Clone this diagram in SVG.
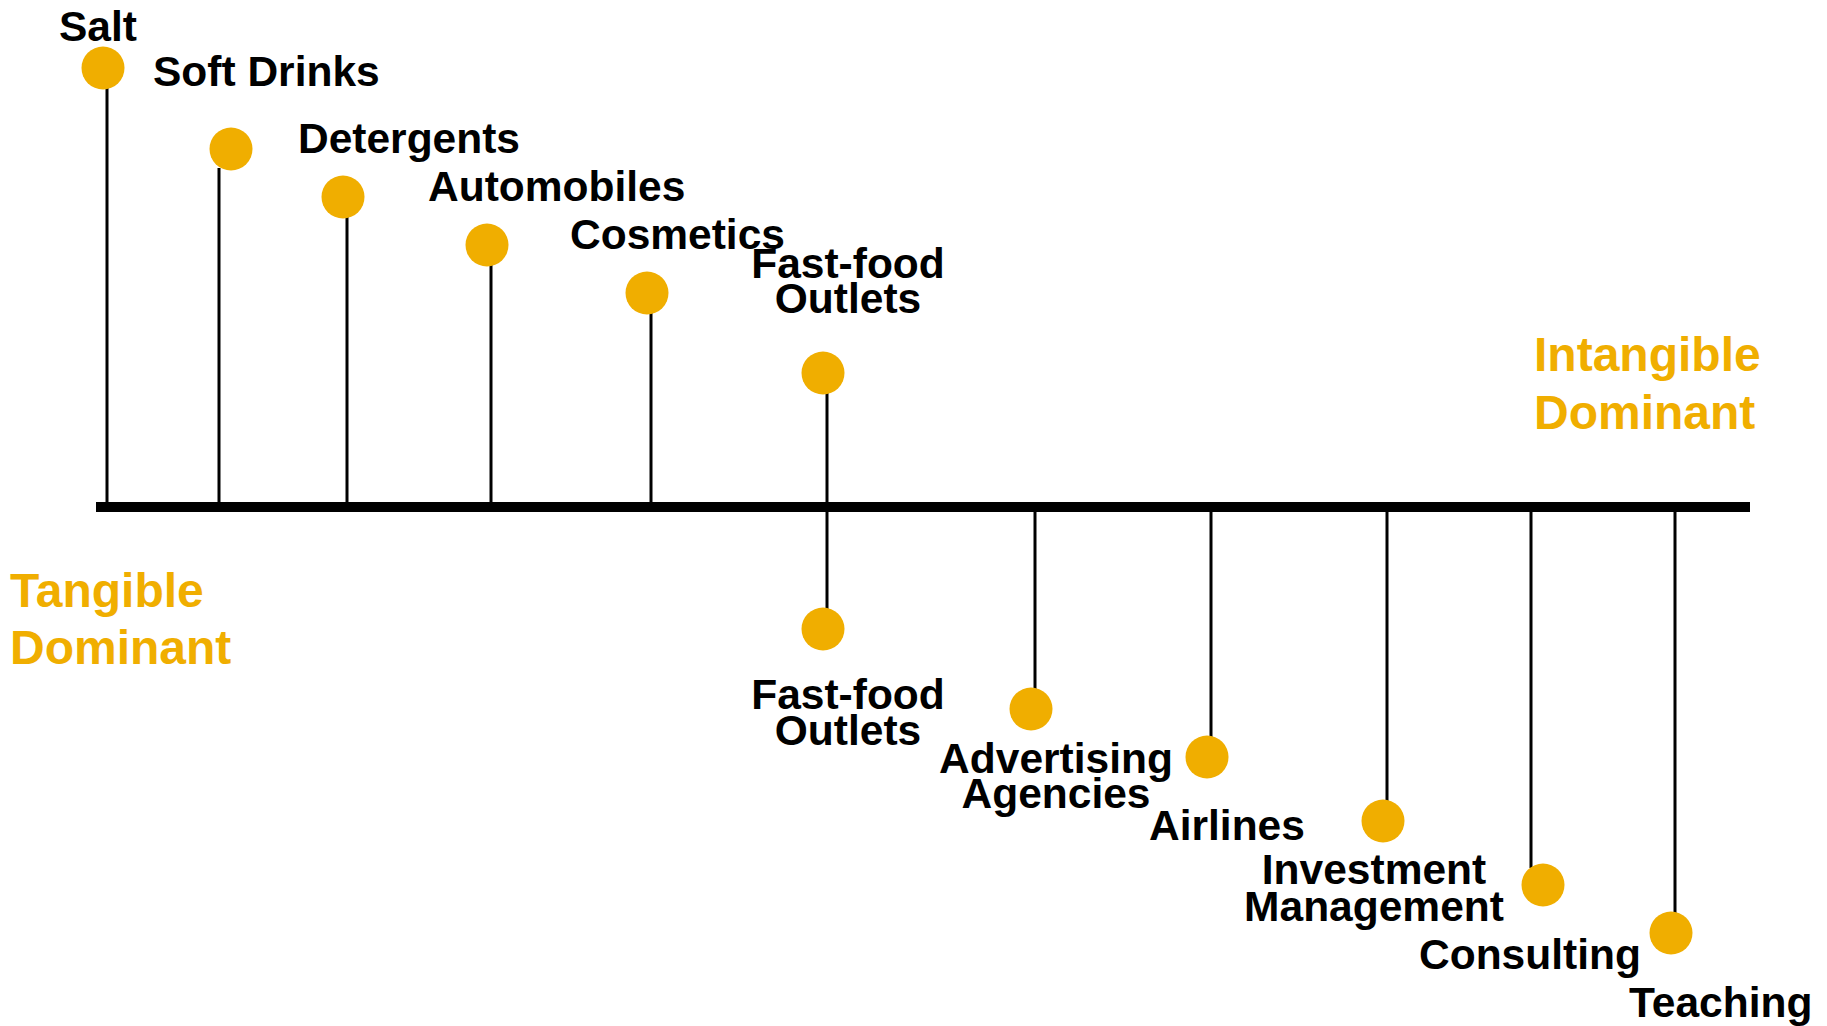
<svg xmlns="http://www.w3.org/2000/svg" width="1827" height="1026" viewBox="0 0 1827 1026">
<style>
.lbl{font-family:"Liberation Sans",Arial,sans-serif;font-weight:bold;font-size:42.5px;fill:#000}
.mid{text-anchor:middle}
.big{font-family:"Liberation Sans",Arial,sans-serif;font-weight:bold;font-size:48px;fill:#F0AE00}
.dot{fill:#F0AE00}
.stem{stroke:#000;stroke-width:3;fill:none}
</style>
<rect width="1827" height="1026" fill="#fff"/>
<g id="connectors">
<line class="stem" x1="107" y1="88" x2="107" y2="507"/>
<line class="stem" x1="219" y1="168" x2="219" y2="507"/>
<line class="stem" x1="347" y1="216" x2="347" y2="507"/>
<line class="stem" x1="491" y1="264" x2="491" y2="507"/>
<line class="stem" x1="651" y1="312" x2="651" y2="507"/>
<line class="stem" x1="827" y1="392" x2="827" y2="610"/>
<line class="stem" x1="1035" y1="507" x2="1035" y2="690"/>
<line class="stem" x1="1211" y1="507" x2="1211" y2="738"/>
<line class="stem" x1="1387" y1="507" x2="1387" y2="802"/>
<line class="stem" x1="1531" y1="507" x2="1531" y2="868"/>
<line class="stem" x1="1675" y1="507" x2="1675" y2="914"/>
</g>
<g id="axis"><rect x="96" y="502" width="1654" height="10" fill="#000"/></g>
<g id="salt"><circle class="dot" cx="103" cy="68" r="21.5"/><text class="lbl" x="59" y="41">Salt</text></g>
<g id="soft-drinks"><circle class="dot" cx="231" cy="149" r="21.5"/><text class="lbl" x="153" y="86">Soft Drinks</text></g>
<g id="detergents"><circle class="dot" cx="343" cy="197" r="21.5"/><text class="lbl" x="298" y="153">Detergents</text></g>
<g id="automobiles"><circle class="dot" cx="487" cy="245" r="21.5"/><text class="lbl" x="428" y="201">Automobiles</text></g>
<g id="cosmetics"><circle class="dot" cx="647" cy="293" r="21.5"/><text class="lbl" x="570" y="249">Cosmetics</text></g>
<g id="fastfood-top"><circle class="dot" cx="823" cy="373" r="21.5"/><text class="lbl mid" x="848" y="278">Fast-food</text><text class="lbl mid" x="848" y="313">Outlets</text></g>
<g id="fastfood-bottom"><circle class="dot" cx="823" cy="629" r="21.5"/><text class="lbl mid" x="848" y="709">Fast-food</text><text class="lbl mid" x="848" y="745">Outlets</text></g>
<g id="advertising"><circle class="dot" cx="1031" cy="709" r="21.5"/><text class="lbl mid" x="1056" y="773">Advertising</text><text class="lbl mid" x="1056" y="808">Agencies</text></g>
<g id="airlines"><circle class="dot" cx="1207" cy="757" r="21.5"/><text class="lbl" x="1149" y="840">Airlines</text></g>
<g id="investment"><circle class="dot" cx="1383" cy="821" r="21.5"/><text class="lbl mid" x="1374" y="884">Investment</text><text class="lbl mid" x="1374" y="921">Management</text></g>
<g id="consulting"><circle class="dot" cx="1543" cy="885" r="21.5"/><text class="lbl" x="1419" y="969">Consulting</text></g>
<g id="teaching"><circle class="dot" cx="1671" cy="933" r="21.5"/><text class="lbl" x="1629" y="1017">Teaching</text></g>
<g id="tangible"><text class="big" x="10" y="607">Tangible</text><text class="big" x="10" y="664">Dominant</text></g>
<g id="intangible"><text class="big" x="1534" y="371">Intangible</text><text class="big" x="1534" y="429">Dominant</text></g>
</svg>
